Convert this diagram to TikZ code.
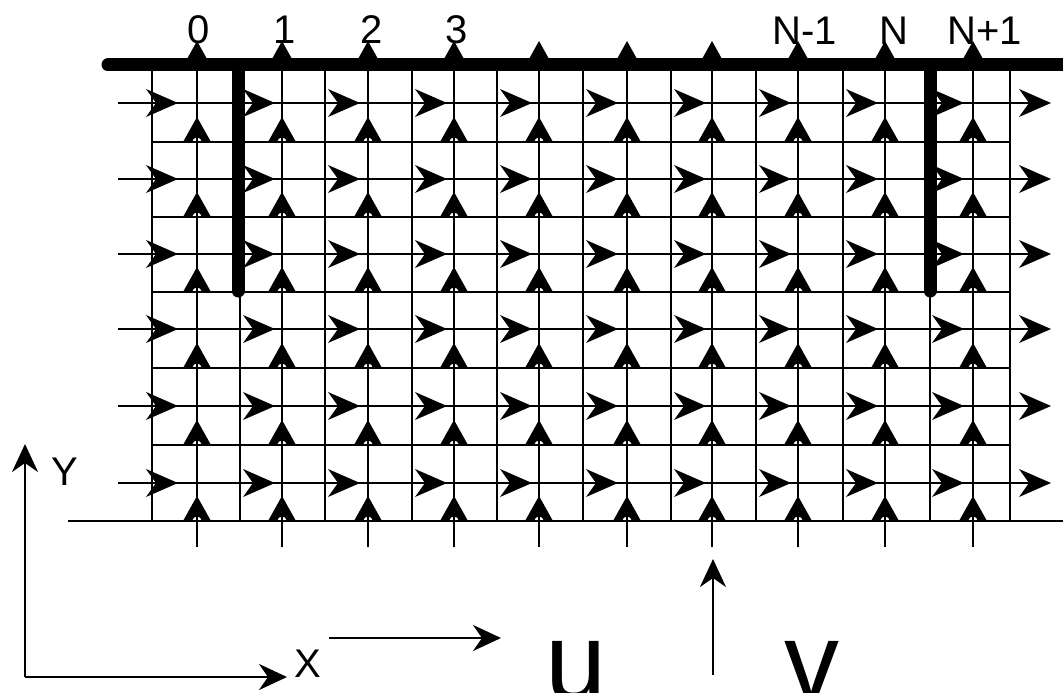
\documentclass[tikz,border=0pt]{standalone}
\usepackage{fontspec}
\setmainfont{Liberation Sans}
\usetikzlibrary{arrows.meta}
\begin{document}
\begin{tikzpicture}[x=1pt,y=-1pt,
  gridline/.style={line width=2.9pt},
  wall/.style={line width=13pt,line cap=round},
  axisline/.style={line width=2.6pt,-{Stealth[length=28pt,width=26pt,inset=9pt]}},
  lbl/.style={inner sep=0pt,anchor=base west,font=\fontsize{40}{41}\selectfont},
  biglbl/.style={inner sep=0pt,anchor=base west,font=\fontsize{110}{110}\selectfont}]
\def\faces{152,240,325,412,497,583,671,756,843,930,1010}
\def\centers{197,282,368,454,539,627,712,798,885,973}
\def\crows{103,179,254,329,406,483}
\def\frows{142,217,292,368,445,521}
\useasboundingbox (0,0) rectangle (1063,693);
\clip (0,0) rectangle (1063,693);
\fill[white] (0,0) rectangle (1063,693);
% grid
\foreach \x in \faces {\draw[gridline] (\x,65) -- (\x,521);}
\foreach \x in \centers {\draw[gridline] (\x,65) -- (\x,547);}
\foreach \y in {142,217,292,368,445} {\draw[gridline] (152,\y) -- (1010,\y);}
\draw[gridline] (68,521) -- (1063,521);
\foreach \y in \crows {\draw[gridline] (118,\y) -- (1048,\y);}
% u arrowheads
\foreach \y in \crows {
  \foreach \t in {178,275,360,447,532,618,706,791,878,964,1051} {
    \fill[shift={(\t,\y)}] (0,0) -- (-32,-14) -- (-22,0) -- (-32,14) -- cycle;
  }
}
% v arrowheads
\foreach \x in \centers {
  \foreach \y in \frows {
    \fill[shift={(\x,\y)}] (0,-25) -- (-14,0) -- (-5,0) .. controls (-4,-6) and (4,-6) .. (5,0) -- (14,0) -- cycle;
  }
  \fill[shift={(\x,59)}] (0,-18) -- (-10,0) -- (10,0) -- cycle;
}
% walls
\draw[wall] (108,65) -- (1075,65);
\draw[wall] (238,65) -- (238,291);
\draw[wall] (930,65) -- (930,291);
% labels
\node[lbl,anchor=base] (l0) at (199,44) {0};
\node[lbl,anchor=base] (l1) at (285,44) {1};
\node[lbl,anchor=base] (l2) at (372,44) {2};
\node[lbl,anchor=base] (l3) at (457,44) {3};
\node[lbl] (lNm) at (772,45) {N-1};
\node[lbl] (lN) at (879,45) {N};
\node[lbl] (lNp) at (947,45) {N+1};
% axes
\coordinate (O) at (25,677);
\coordinate (Xt) at (287,677);
\coordinate (Yt) at (25,444);
\draw[axisline] (O) -- (Xt);
\draw[axisline] (O) -- (Yt);
\node[lbl] (X) at (294,677) {X};
\node[lbl] (Y) at (51,485) {Y};
% velocity arrows
\coordinate (us) at (329,638);
\coordinate (ue) at (501,638);
\coordinate (vs) at (713,675);
\coordinate (ve) at (713,559);
\draw[axisline] (us) -- (ue);
\draw[axisline] (vs) -- (ve);
\node[biglbl] (u) at (545,699) {u};
\node[biglbl] (v) at (784,699) {v};
\end{tikzpicture}
\end{document}
